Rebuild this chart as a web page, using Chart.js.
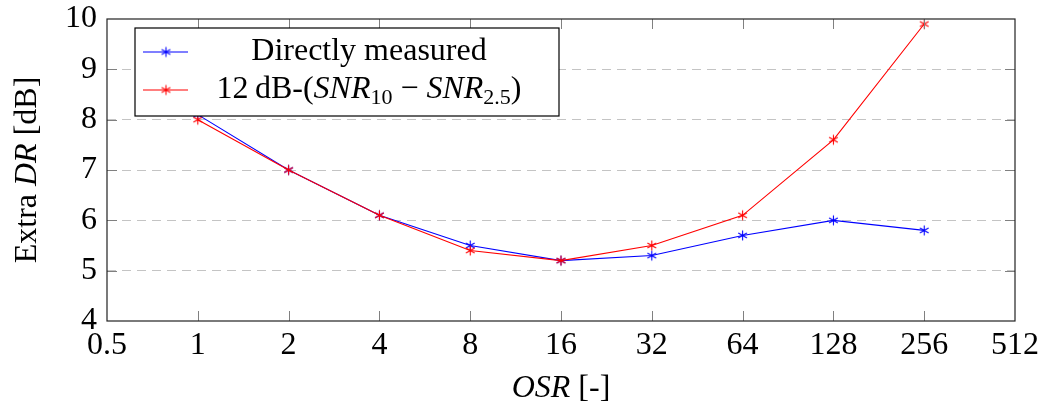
<!DOCTYPE html>
<html>
<head>
<meta charset="utf-8">
<script src="https://cdn.jsdelivr.net/npm/chart.js@4.4.1/dist/chart.umd.min.js"></script>
<style>
  html, body { margin: 0; padding: 0; background: #fff; }
</style>
</head>
<body>
<canvas id="chart" width="1051" height="405"></canvas>
<script>
// data
var osr = [1, 2, 4, 8, 16, 32, 64, 128, 256];
var directlyMeasured = [8.1, 7.0, 6.1, 5.5, 5.2, 5.3, 5.7, 6.0, 5.8];
var snrDifference = [8.0, 7.0, 6.1, 5.4, 5.2, 5.5, 6.1, 7.6, 9.9];
var xTicks = [0.5, 1, 2, 4, 8, 16, 32, 64, 128, 256, 512];
var yTicks = [4, 5, 6, 7, 8, 9, 10];

// rich text pieces: [text, style]  r = roman, i = italic, s = subscript
var legendBlue = [['Directly measured', 'r']];
var legendRed = [['12\u2009dB-(', 'r'], ['SNR', 'i'], ['10', 's'], [' \u2212 ', 'r'], ['SNR', 'i'], ['2.5', 's'], [')', 'r']];
var yTitle = [['Extra ', 'r'], ['DR', 'i'], [' [dB]', 'r']];
var xTitle = [['OSR', 'i'], [' [-]', 'r']];

var FAMILY = '"Liberation Serif", "DejaVu Serif", serif';
var FS = 32;

function fontFor(style) {
  if (style == 'i') return 'italic ' + FS + 'px ' + FAMILY;
  if (style == 's') return Math.round(FS * 0.7) + 'px ' + FAMILY;
  return FS + 'px ' + FAMILY;
}

function richWidth(g, parts) {
  var w = 0;
  parts.forEach(function(p) { g.font = fontFor(p[1]); w += g.measureText(p[0]).width; });
  return w;
}

// draws centred on x, baseline at y
function drawRich(g, parts, x, y) {
  var w = richWidth(g, parts);
  var cx = x - w / 2;
  g.textAlign = 'left';
  g.textBaseline = 'alphabetic';
  g.fillStyle = '#000';
  parts.forEach(function(p) {
    g.font = fontFor(p[1]);
    var dy = p[1] == 's' ? FS * 0.2 : 0;
    g.fillText(p[0], cx, y + dy);
    cx += g.measureText(p[0]).width;
  });
}

function asterisk(color) {
  var c = document.createElement('canvas');
  c.width = c.height = 13;
  var g = c.getContext('2d');
  g.strokeStyle = color;
  g.lineWidth = 1.1;
  for (var k = 0; k < 3; k++) {
    var a = Math.PI / 2 + k * Math.PI / 3;
    g.beginPath();
    g.moveTo(6.5 + 5 * Math.cos(a), 6.5 + 5 * Math.sin(a));
    g.lineTo(6.5 - 5 * Math.cos(a), 6.5 - 5 * Math.sin(a));
    g.stroke();
  }
  return c;
}

var blueStar = asterisk('#0000ff');
var redStar = asterisk('#ff0000');

function pairs(values) {
  return osr.map(function(x, i) { return {x: x, y: values[i]}; });
}

var decorations = {
  id: 'decorations',
  afterDraw: function(chart) {
    var g = chart.ctx;
    var a = chart.chartArea;
    var xs = chart.scales.x, ys = chart.scales.y;
    g.save();

    // inward tick marks on all four sides
    g.strokeStyle = '#808080';
    g.lineWidth = 1;
    g.beginPath();
    xTicks.slice(1, -1).forEach(function(v) {
      var px = Math.round(xs.getPixelForValue(v)) + 0.5;
      g.moveTo(px, a.bottom); g.lineTo(px, a.bottom - 10);
      g.moveTo(px, a.top); g.lineTo(px, a.top + 10);
    });
    yTicks.slice(1, -1).forEach(function(v) {
      var py = Math.round(ys.getPixelForValue(v)) + 0.5;
      g.moveTo(a.left, py); g.lineTo(a.left + 10, py);
      g.moveTo(a.right, py); g.lineTo(a.right - 10, py);
    });
    g.stroke();

    // frame
    g.strokeStyle = '#222';
    g.lineWidth = 1.2;
    g.strokeRect(a.left, a.top, a.right - a.left, a.bottom - a.top);

    // legend box
    var lx = a.left + 28, ly = a.top + 9, lw = 424, lh = 88;
    g.fillStyle = '#fff';
    g.fillRect(lx, ly, lw, lh);
    g.strokeStyle = '#000';
    g.lineWidth = 1.2;
    g.strokeRect(lx, ly, lw, lh);
    [[legendBlue, '#0000ff', blueStar, 24], [legendRed, '#ff0000', redStar, 62]].forEach(function(row) {
      var yy = ly + row[3];
      g.strokeStyle = row[1];
      g.lineWidth = 1.1;
      g.beginPath();
      g.moveTo(lx + 8, yy); g.lineTo(lx + 53, yy);
      g.stroke();
      g.drawImage(row[2], lx + 31 - 6.5, yy - 6.5);
      drawRich(g, row[0], lx + 234, yy + 8);
    });

    // axis titles
    drawRich(g, xTitle, (a.left + a.right) / 2, 397);
    g.translate(36, (a.top + a.bottom) / 2);
    g.rotate(-Math.PI / 2);
    drawRich(g, yTitle, 0, 0);
    g.restore();
  }
};

new Chart(document.getElementById('chart'), {
  type: 'line',
  data: {
    datasets: [{
      label: 'Directly measured',
      data: pairs(directlyMeasured),
      borderColor: '#0000ff',
      borderWidth: 1.1,
      pointStyle: blueStar,
      order: 1
    }, {
      label: '12 dB-(SNR10 - SNR2.5)',
      data: pairs(snrDifference),
      borderColor: '#ff0000',
      borderWidth: 1.1,
      pointStyle: redStar,
      order: 0
    }]
  },
  options: {
    responsive: false,
    devicePixelRatio: 1,
    animation: false,
    layout: {padding: {top: 0, right: 36, left: 0, bottom: 0}},
    plugins: {legend: {display: false}, tooltip: {enabled: false}},
    scales: {
      x: {
        type: 'logarithmic',
        min: 0.5,
        max: 512,
        afterBuildTicks: function(s) { s.ticks = xTicks.map(function(v) { return {value: v}; }); },
        afterFit: function(s) { s.height = 84; },
        ticks: {
          autoSkip: false, maxRotation: 0, padding: -3, color: '#000',
          font: {family: FAMILY, size: FS},
          callback: function(v) { return String(v); }
        },
        grid: {display: false},
        border: {display: false}
      },
      y: {
        min: 4,
        max: 10,
        afterBuildTicks: function(s) { s.ticks = yTicks.map(function(v) { return {value: v}; }); },
        afterFit: function(s) { s.width = 107; s.paddingTop = 19; },
        ticks: {
          padding: 10, color: '#000',
          font: {family: FAMILY, size: FS, lineHeight: 1.19}
        },
        grid: {
          drawTicks: false,
          lineWidth: 1,
          color: function(ctx) {
            var v = ctx.tick && ctx.tick.value;
            return (v > 4 && v < 10) ? '#c4c4c4' : 'rgba(0,0,0,0)';
          }
        },
        border: {display: false, dash: [9, 6]}
      }
    }
  },
  plugins: [decorations]
});
</script>
</body>
</html>
